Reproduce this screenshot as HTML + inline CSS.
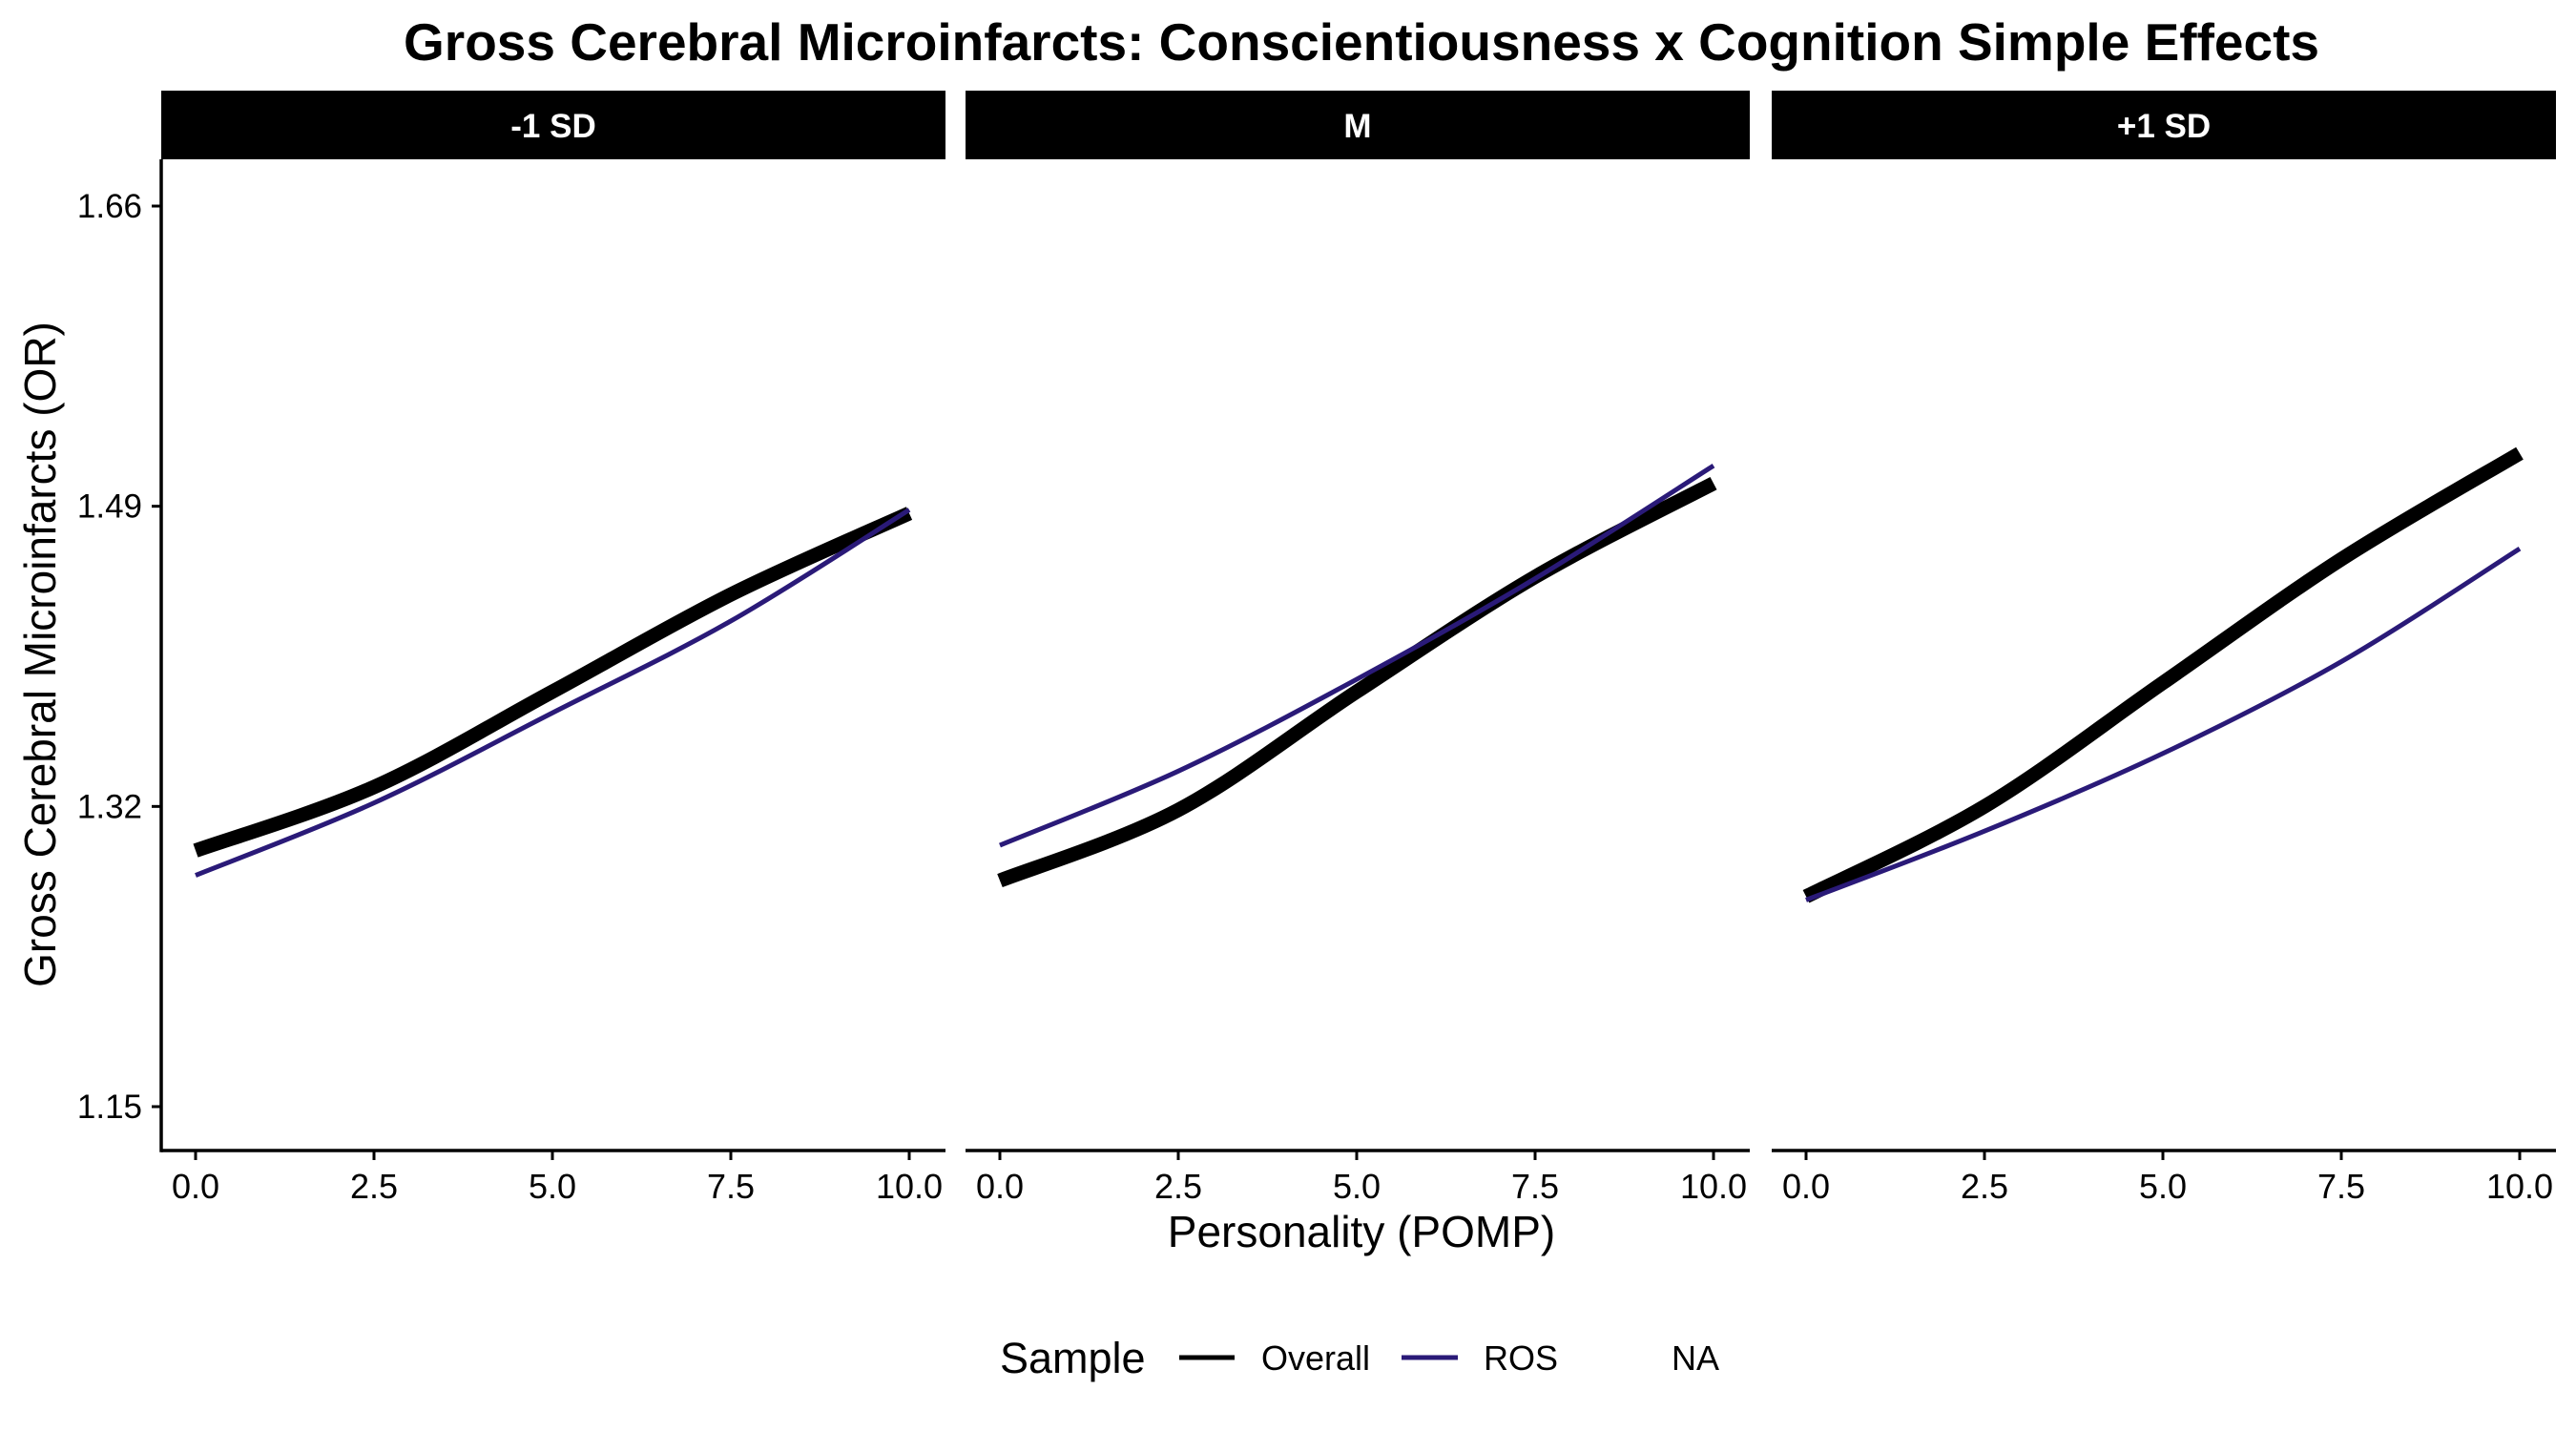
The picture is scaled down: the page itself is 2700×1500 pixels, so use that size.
<!DOCTYPE html>
<html><head><meta charset="utf-8"><style>
html,body{margin:0;padding:0;background:#fff;}
svg{display:block;font-family:"Liberation Sans",Arial,sans-serif;}
</style></head><body>
<svg id="chart" width="2700" height="1500" viewBox="0 0 2700 1500">
<text x="1427" y="63" text-anchor="middle" font-size="55" font-weight="bold">Gross Cerebral Microinfarcts: Conscientiousness x Cognition Simple Effects</text>
<text transform="translate(58,686) rotate(-90)" text-anchor="middle" font-size="46">Gross Cerebral Microinfarcts (OR)</text>
<text x="1427" y="1307" text-anchor="middle" font-size="46">Personality (POMP)</text>
<g>
<text x="1048" y="1439" font-size="45">Sample</text>
<line x1="1236" y1="1423" x2="1294" y2="1423" stroke="#000" stroke-width="5"/>
<text x="1322" y="1436" font-size="36">Overall</text>
<line x1="1469" y1="1423" x2="1528" y2="1423" stroke="#2a1a78" stroke-width="5"/>
<text x="1555" y="1436" font-size="36">ROS</text>
<text x="1752" y="1436" font-size="36">NA</text>
</g>
<g id="panels"></g>
</svg>
<script>
const panelNames = ["-1 SD", "M", "+1 SD"];
const xValues = [0, 2.5, 5, 7.5, 10];
const overallSeries = [
  [1.295, 1.331, 1.385, 1.440, 1.486],
  [1.278, 1.318, 1.385, 1.450, 1.503],
  [1.269, 1.320, 1.390, 1.460, 1.520]
];
const rosSeries = [
  [1.281, 1.322, 1.373, 1.425, 1.488],
  [1.298, 1.340, 1.392, 1.449, 1.513],
  [1.267, 1.306, 1.350, 1.402, 1.466]
];
const yTicks = [1.15, 1.32, 1.49, 1.66];
const xTicks = [0, 2.5, 5, 7.5, 10];
const xTickLabels = ["0.0", "2.5", "5.0", "7.5", "10.0"];

const NS = "http://www.w3.org/2000/svg";
const panelsG = document.getElementById("panels");
const panelLeft = [169, 1012, 1857];
const panelW = 822;
const plotTop = 167, plotBottom = 1206;
function yScale(v){ return 1160 + (v - 1.15) * (216 - 1160) / (1.66 - 1.15); }
function xScale(p, v){ return panelLeft[p] + 36 + v * 74.8; }
function mk(tag, attrs){ const e = document.createElementNS(NS, tag); for (const k in attrs) e.setAttribute(k, attrs[k]); return e; }
function pathFor(p, ys){
  const pts = xValues.map((x,i)=>[xScale(p,x), yScale(ys[i])]);
  let d = "M" + pts[0][0] + "," + pts[0][1];
  for (let i=0;i<pts.length-1;i++){
    const p0 = pts[Math.max(i-1,0)], p1 = pts[i], p2 = pts[i+1], p3 = pts[Math.min(i+2,pts.length-1)];
    const c1 = [p1[0]+(p2[0]-p0[0])/6, p1[1]+(p2[1]-p0[1])/6];
    const c2 = [p2[0]-(p3[0]-p1[0])/6, p2[1]-(p3[1]-p1[1])/6];
    d += " C" + c1.join(",") + " " + c2.join(",") + " " + p2.join(",");
  }
  return d;
}
panelNames.forEach((name, p) => {
  const L = panelLeft[p];
  const strip = mk("rect", {x:L, y:95, width:panelW, height:72, fill:"#000"});
  
  
  panelsG.appendChild(strip);
  const st = mk("text", {x:L+panelW/2, y:144, "text-anchor":"middle", "font-size":35, "font-weight":"bold", fill:"#fff"});
  st.textContent = name;
  
  
  panelsG.appendChild(st);
  const xa = mk("line", {x1:L, y1:plotBottom, x2:L+panelW, y2:plotBottom, stroke:"#000", "stroke-width":3.5});
  
  
  panelsG.appendChild(xa);
  if (p === 0){
    const ya = mk("line", {x1:L, y1:plotTop, x2:L, y2:plotBottom+1.75, stroke:"#000", "stroke-width":3.5});
    
    
    panelsG.appendChild(ya);
    yTicks.forEach(t => {
      const tk = mk("line", {x1:L-10, y1:yScale(t), x2:L, y2:yScale(t), stroke:"#000", "stroke-width":3});
      
      
      panelsG.appendChild(tk);
      const tl = mk("text", {x:L-20, y:yScale(t)+12, "text-anchor":"end", "font-size":35, fill:"#000"});
      tl.textContent = t.toFixed(2);
      
      
      panelsG.appendChild(tl);
    });
  }
  xTicks.forEach((t,i) => {
    const tk = mk("line", {x1:xScale(p,t), y1:plotBottom, x2:xScale(p,t), y2:plotBottom+10, stroke:"#000", "stroke-width":3});
    
    
    panelsG.appendChild(tk);
    const tl = mk("text", {x:xScale(p,t), y:1256, "text-anchor":"middle", "font-size":36, fill:"#000"});
    tl.textContent = xTickLabels[i];
    
    
    panelsG.appendChild(tl);
  });
  const ov = mk("path", {d:pathFor(p, overallSeries[p]), fill:"none", stroke:"#000", "stroke-width":15});
  
  
  panelsG.appendChild(ov);
  const ro = mk("path", {d:pathFor(p, rosSeries[p]), fill:"none", stroke:"#2a1a78", "stroke-width":5});
  
  
  panelsG.appendChild(ro);
});
</script>
</body></html>
